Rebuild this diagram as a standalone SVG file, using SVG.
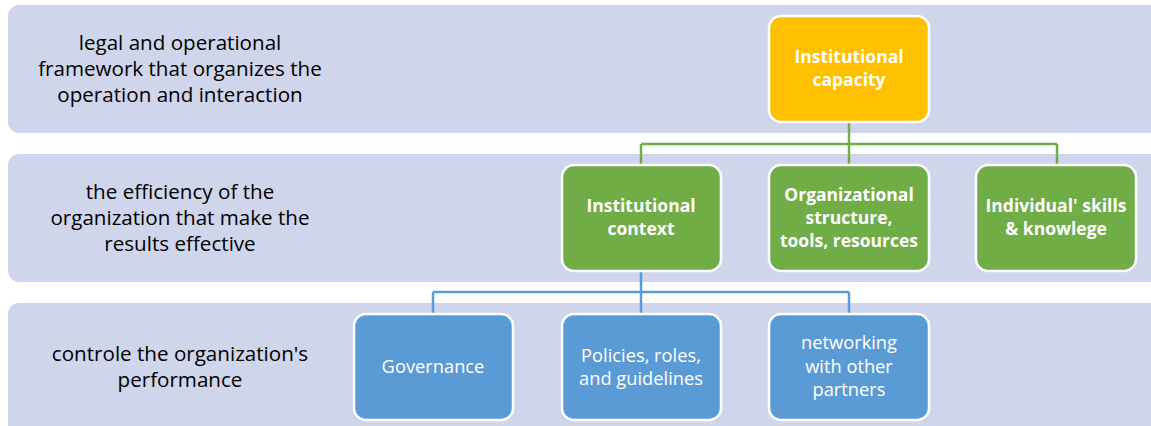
<svg xmlns="http://www.w3.org/2000/svg" width="1151" height="426" viewBox="0 0 1151 426">
<style>
.band{fill:#CFD5EA}
.lbl{font-family:"Open Sans","Noto Sans",sans-serif;font-size:20.6px;fill:#000;text-anchor:middle}
.node{stroke:#fff;stroke-width:2.5}
.y{fill:#FFC000}.g{fill:#70AD47}.b{fill:#5B9BD5}
.bt{font-family:"Open Sans","Noto Sans",sans-serif;font-weight:bold;font-size:17.5px;fill:#fff;text-anchor:middle}
.rt{font-family:"Open Sans","Noto Sans",sans-serif;font-size:18.3px;fill:#fff;text-anchor:middle}
.cg{fill:none;stroke:#70AD47;stroke-width:2.5}
.cb{fill:none;stroke:#5B9BD5;stroke-width:2.5}
</style>
<g id="bands">
<rect class="band" x="8" y="5" width="1160" height="128" rx="11"/>
<rect class="band" x="8" y="154" width="1160" height="128" rx="11"/>
<rect class="band" x="8" y="303" width="1160" height="140" rx="11"/>
<text class="lbl"><tspan x="180" y="50">legal and operational</tspan><tspan x="180" y="76">framework that organizes the</tspan><tspan x="180" y="102">operation and interaction</tspan></text>
<text class="lbl"><tspan x="180" y="199">the efficiency of the</tspan><tspan x="180" y="225">organization that make the</tspan><tspan x="180" y="251">results effective</tspan></text>
<text class="lbl"><tspan x="180" y="361">controle the organization's</tspan><tspan x="180" y="387">performance</tspan></text>
</g>
<g id="connectors">
<path class="cg" d="M849 122V165M641 144H1057M641 144V165M1057 144V165"/>
<path class="cb" d="M641 271V314M433 292H849M433 292V314M849 292V314"/>
</g>
<g id="n-capacity">
<rect class="node y" x="769" y="16" width="160" height="106" rx="12"/>
<text class="bt"><tspan x="849" y="63">Institutional</tspan><tspan x="849" y="86">capacity</tspan></text>
</g>
<g id="n-context">
<rect class="node g" x="562" y="165" width="159" height="106" rx="12"/>
<text class="bt"><tspan x="641" y="212">Institutional</tspan><tspan x="641" y="235">context</tspan></text>
</g>
<g id="n-structure">
<rect class="node g" x="769" y="165" width="160" height="106" rx="12"/>
<text class="bt"><tspan x="849" y="201">Organizational</tspan><tspan x="849" y="224">structure,</tspan><tspan x="849" y="247">tools, resources</tspan></text>
</g>
<g id="n-skills">
<rect class="node g" x="976" y="165" width="160" height="106" rx="12"/>
<text class="bt"><tspan x="1056" y="212">Individual' skills</tspan><tspan x="1056" y="235">&amp; knowlege</tspan></text>
</g>
<g id="n-governance">
<rect class="node b" x="354" y="314" width="159" height="106" rx="12"/>
<text class="rt" x="433" y="373">Governance</text>
</g>
<g id="n-policies">
<rect class="node b" x="562" y="314" width="159" height="106" rx="12"/>
<text class="rt"><tspan x="641" y="362">Policies, roles,</tspan><tspan x="641" y="385">and guidelines</tspan></text>
</g>
<g id="n-networking">
<rect class="node b" x="769" y="314" width="160" height="106" rx="12"/>
<text class="rt"><tspan x="849" y="349">networking</tspan><tspan x="849" y="373">with other</tspan><tspan x="849" y="396">partners</tspan></text>
</g>
</svg>
